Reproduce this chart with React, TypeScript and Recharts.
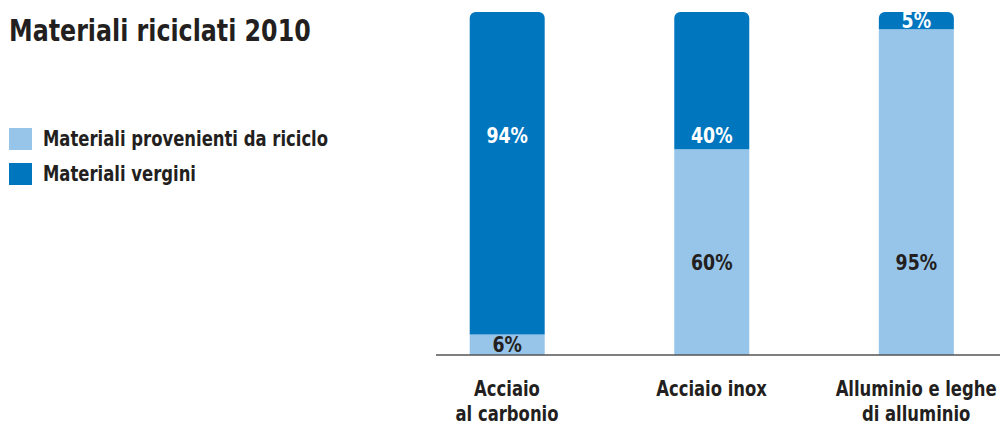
import React from "react";
import { BarChart, Bar, XAxis, YAxis, Legend, LabelList } from "recharts";

const categories = ["Acciaio\nal carbonio", "Acciaio inox", "Alluminio e leghe\ndi alluminio"];
const riciclo = [6, 60, 95];
const vergini = [94, 40, 5];
const seriesNames = ["Materiali provenienti da riciclo", "Materiali vergini"];
const title = "Materiali riciclati 2010";

const DARK = "#0076BF";
const LIGHT = "#97C5EA";
const TEXT = "#231F20";
const FONT = "'Liberation Sans Narrow', 'DejaVu Sans Condensed', Arial, sans-serif";
const SQ = 0.87;

const data = categories.map((c, i) => ({ idx: i, name: c, riciclo: riciclo[i], vergini: vergini[i] }));

const PLOT_TOP = 12;
const PLOT_H = 343;

const makeLabel = (pref: number, color: string) => (props: any) => {
  const { x, y, width, height, value } = props;
  const prefY = PLOT_TOP + pref * PLOT_H;
  let cy = y + height / 2;
  if (prefY > y + 10 && prefY < y + height - 10) cy = prefY;
  return (
    <g transform={`translate(${x + width / 2},${cy}) scale(0.92,1)`}>
      <text x={0} y={0} dy="0.36em" textAnchor="middle" fill={color}
        style={{ fontFamily: FONT, fontWeight: 700, fontSize: 21 }}>
        {value}%
      </text>
    </g>
  );
};

const Tick = (props: any) => {
  const { x, y, payload } = props;
  const lines = categories[payload.value].split("\n");
  return (
    <g transform={`translate(${x},${y}) scale(${SQ},1)`}>
      <text x={0} y={0} textAnchor="middle" fill={TEXT} style={{ fontFamily: FONT, fontWeight: 700, fontSize: 21 }}>
        {lines.map((l: string, i: number) => (
          <tspan key={i} x={0} dy={i === 0 ? 33 : 25}>{l}</tspan>
        ))}
      </text>
    </g>
  );
};

const LegendContent = () => (
  <div style={{ fontFamily: FONT, fontWeight: 700, fontSize: 21, color: TEXT, whiteSpace: "nowrap" }}>
    {[LIGHT, DARK].map((c, i) => (
      <div key={i} style={{ display: "flex", alignItems: "center", height: 35 }}>
        <div style={{ width: 23, height: 22, background: c, marginRight: 11, flex: "none" }} />
        <span style={{ display: "inline-block", transform: `scaleX(${SQ})`, transformOrigin: "left center" }}>{seriesNames[i]}</span>
      </div>
    ))}
  </div>
);

export default function App() {
  return (
    <div style={{ position: "absolute", left: 0, top: 0, width: 1000, height: 426, background: "#fff", overflow: "hidden" }}>
      <div style={{ position: "absolute", left: 9, top: 13, fontFamily: FONT, fontWeight: 700, fontSize: 30, color: TEXT, lineHeight: "36px", whiteSpace: "nowrap", transform: "scaleX(0.88)", transformOrigin: "left center" }}>
        {title}
      </div>
      <BarChart width={1000} height={426} data={data} margin={{ top: PLOT_TOP, right: 0, left: 436, bottom: 11 }}>
        <XAxis dataKey="idx" type="number" domain={[-0.347, 2.41]} ticks={[0, 1, 2]} allowDataOverflow
          tickLine={false} axisLine={{ stroke: "#555", strokeWidth: 1.5 }} height={60} tick={<Tick />} interval={0} />
        <YAxis hide domain={[0, 100]} width={0} />
        <Legend layout="vertical" align="center" verticalAlign="middle" content={<LegendContent />}
          wrapperStyle={{ left: 9, top: 121, width: 400 }} />
        <Bar dataKey="riciclo" name={seriesNames[0]} stackId="a" fill={LIGHT} barSize={75} isAnimationActive={false}>
          <LabelList dataKey="riciclo" content={makeLabel(0.73, TEXT)} />
        </Bar>
        <Bar dataKey="vergini" name={seriesNames[1]} stackId="a" fill={DARK} barSize={75} radius={[6, 6, 0, 0]} isAnimationActive={false}>
          <LabelList dataKey="vergini" content={makeLabel(0.36, "#fff")} />
        </Bar>
      </BarChart>
    </div>
  );
}
